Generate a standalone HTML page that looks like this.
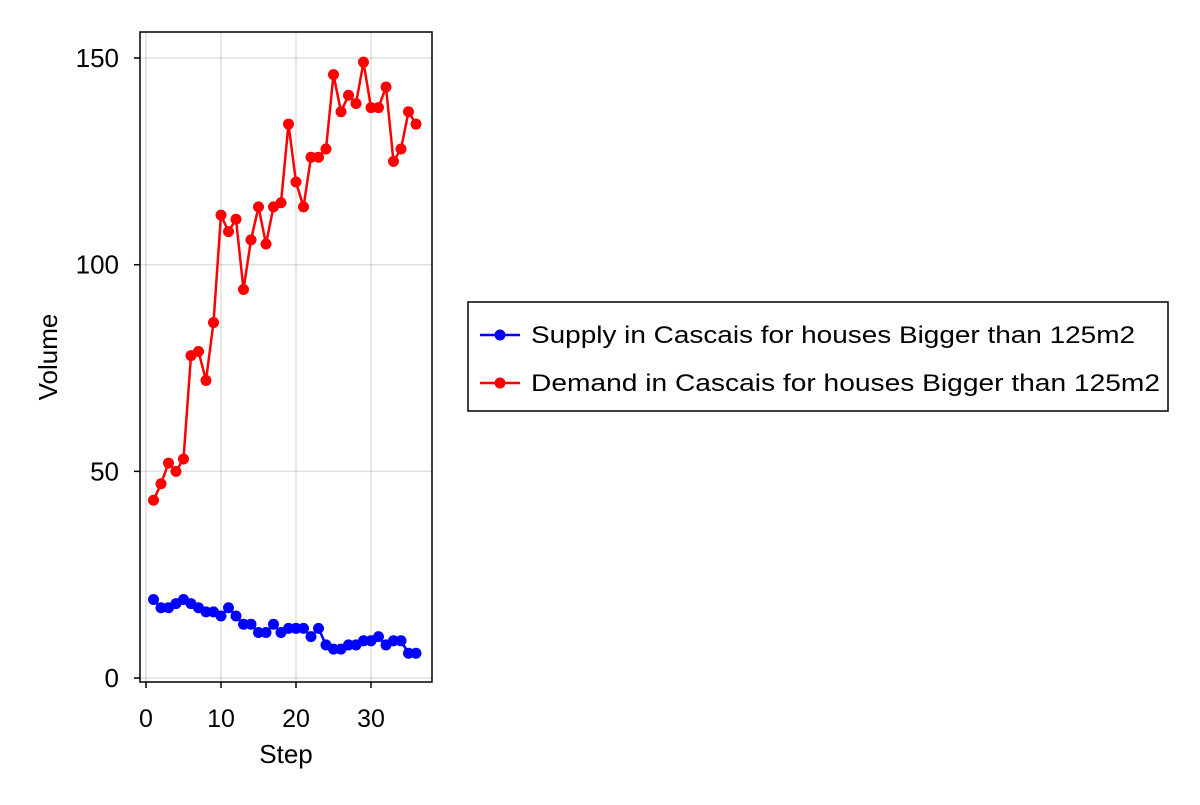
<!DOCTYPE html>
<html><head><meta charset="utf-8"><style>
body{margin:0;background:#fff;font-family:"Liberation Sans",sans-serif}
</style></head><body>
<svg id="chart" width="1200" height="800" xmlns="http://www.w3.org/2000/svg" font-family="Liberation Sans, sans-serif">
<g id="grid"></g>
<g id="series"></g>
<rect x="140" y="32" width="292" height="650" fill="none" stroke="#000" stroke-width="1.5"/>
<g id="ticks"></g>
<text x="286" y="763" font-size="26" text-anchor="middle">Step</text>
<text transform="translate(57,357) rotate(-90)" font-size="26" text-anchor="middle">Volume</text>
<g>
<rect x="468" y="302" width="700" height="109" fill="#fff" stroke="#000" stroke-width="1.5"/>
<g>
<line x1="480" y1="335" x2="520" y2="335" stroke="#00f" stroke-width="2.5"/><circle cx="500" cy="335" r="5.5" fill="#00f"/>
<text x="531" y="343" font-size="24" textLength="604" lengthAdjust="spacingAndGlyphs">Supply in Cascais for houses Bigger than 125m2</text></g>
<g>
<line x1="480" y1="383" x2="520" y2="383" stroke="#f00" stroke-width="2.5"/><circle cx="500" cy="383" r="5.5" fill="#f00"/>
<text x="531" y="391" font-size="24" textLength="629" lengthAdjust="spacingAndGlyphs">Demand in Cascais for houses Bigger than 125m2</text></g>
</g>
</svg>
<script>
const steps=[1,2,3,4,5,6,7,8,9,10,11,12,13,14,15,16,17,18,19,20,21,22,23,24,25,26,27,28,29,30,31,32,33,34,35,36];
const supply=[19,17,17,18,19,18,17,16,16,15,17,15,13,13,11,11,13,11,12,12,12,10,12,8,7,7,8,8,9,9,10,8,9,9,6,6];
const demand=[43,47,52,50,53,78,79,72,86,112,108,111,94,106,114,105,114,115,134,120,114,126,126,128,146,137,141,139,149,138,138,143,125,128,137,134];
const xTicks=[0,10,20,30];
const yTicks=[0,50,100,150];
const NS='http://www.w3.org/2000/svg';
function xs(v){return 146+v*7.5;}
function ys(v){return 678-v*4.133;}
function mk(t,a,p){const e=document.createElementNS(NS,t);for(const k in a)e.setAttribute(k,a[k]);p.appendChild(e);return e;}
const grid=document.getElementById('grid'),ticks=document.getElementById('ticks'),ser=document.getElementById('series');
xTicks.forEach(v=>{
  const g=mk('line',{x1:xs(v),x2:xs(v),y1:32,y2:682,stroke:'#000','stroke-opacity':0.12,'stroke-width':1.5},grid);
  
  
  const t=mk('line',{x1:xs(v),x2:xs(v),y1:682,y2:688,stroke:'#000','stroke-width':1.5},ticks);
  
  
  const l=mk('text',{x:xs(v),y:727,'font-size':25,'text-anchor':'middle'},ticks);l.textContent=v;
  
  
});
yTicks.forEach(v=>{
  const g=mk('line',{x1:140,x2:432,y1:ys(v),y2:ys(v),stroke:'#000','stroke-opacity':0.12,'stroke-width':1.5},grid);
  
  
  const t=mk('line',{x1:134,x2:140,y1:ys(v),y2:ys(v),stroke:'#000','stroke-width':1.5},ticks);
  
  
  const l=mk('text',{x:119,y:ys(v)+9,'font-size':26,'text-anchor':'end'},ticks);l.textContent=v;
  
  
});
[[supply,'#00f','supply'],[demand,'#f00','demand']].forEach(([d,c,n])=>{
  const p=mk('polyline',{points:d.map((v,i)=>xs(steps[i])+','+ys(v)).join(' '),fill:'none',stroke:c,'stroke-width':2.5},ser);
  
  
  d.forEach((v,i)=>{
    const m=mk('circle',{cx:xs(steps[i]),cy:ys(v),r:5.5,fill:c},ser);
    
    
  });
});
</script>
</body></html>
